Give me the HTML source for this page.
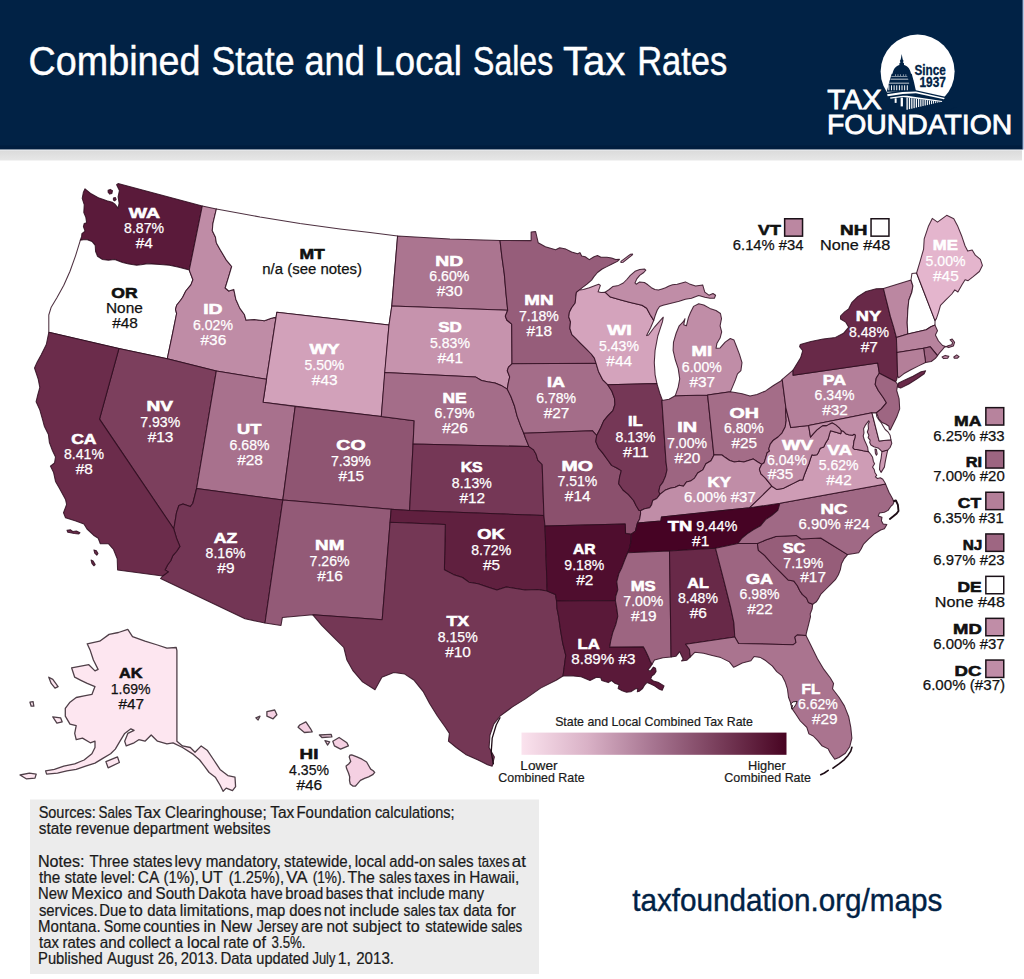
<!DOCTYPE html>
<html lang="en"><head><meta charset="utf-8">
<title>Combined State and Local Sales Tax Rates</title>
<style>
html,body{margin:0;padding:0;background:#fff}
body{width:1024px;height:979px;overflow:hidden}
svg{display:block}
text{font-family:"Liberation Sans",sans-serif}
</style></head><body>
<svg width="1024" height="979" viewBox="0 0 1024 979">
<defs>
<linearGradient id="shade" x1="0" y1="0" x2="0" y2="1"><stop offset="0" stop-color="#eef0f4"/><stop offset="0.18" stop-color="#dcdcdc"/><stop offset="1" stop-color="#e7e7e7"/></linearGradient>
<linearGradient id="ramp" x1="0" y1="0" x2="1" y2="0"><stop offset="0" stop-color="#fbe3ee"/><stop offset="0.25" stop-color="#d9b1c6"/><stop offset="0.5" stop-color="#a67490"/><stop offset="1" stop-color="#480422"/></linearGradient>
</defs>
<rect x="0" y="0" width="1024" height="979" fill="#fff"/>
<rect x="1022" y="0" width="2" height="149.5" fill="#b3c6e3"/>
<rect x="0" y="0" width="1022.6" height="149.5" fill="#012245"/>
<rect x="0" y="149.5" width="1022" height="11" fill="url(#shade)"/>
<rect x="0" y="145.5" width="1022" height="4" fill="#001a38" opacity="0.55"/>
<g fill="#fff" stroke="#fff" stroke-width="0.45">
<text x="28.59" y="74.50" font-size="40.00" textLength="171.84" lengthAdjust="spacingAndGlyphs">Combined</text>
<text x="211.38" y="74.50" font-size="40.00" textLength="83.20" lengthAdjust="spacingAndGlyphs">State</text>
<text x="304.46" y="74.50" font-size="40.00" textLength="60.37" lengthAdjust="spacingAndGlyphs">and</text>
<text x="374.50" y="74.50" font-size="40.00" textLength="87.45" lengthAdjust="spacingAndGlyphs">Local</text>
<text x="473.05" y="74.50" font-size="40.00" textLength="80.11" lengthAdjust="spacingAndGlyphs">Sales</text>
<text x="562.91" y="74.50" font-size="40.00" textLength="62.49" lengthAdjust="spacingAndGlyphs">Tax</text>
<text x="637.17" y="74.50" font-size="40.00" textLength="90.07" lengthAdjust="spacingAndGlyphs">Rates</text>
</g>
<g transform="translate(872 28) scale(0.08789)">
<circle cx="519" cy="496" r="421" fill="#fff"/>
<g fill="#012245">
<path d="M338 296L346 340L351 362L360 375L351 390L364 402L364 424L312 424L312 402L325 390L316 375L325 362L330 340Z"/>
<path d="M232 524C242 452 290 416 338 414C388 416 434 452 444 524Z"/>
<path d="M224 520L452 520L474 602L200 602Z"/>
<path d="M200 600L474 600L502 724L168 724Z"/>
<path d="M120 745L340 712L500 708L860 788L960 900L700 1000L120 1000Z"/>
</g>
<g fill="#fff">
<path d="M222 548L400 548L404 556L219 556Z"/>
<path d="M212 578L410 578L414 586L209 586Z"/>
<path d="M196 622L420 622L424 632L193 632Z"/>
<rect x="186" y="652" width="11" height="56"/>
<rect x="216" y="652" width="11" height="56"/>
<rect x="246" y="652" width="11" height="56"/>
<rect x="276" y="652" width="11" height="56"/>
<rect x="306" y="652" width="11" height="56"/>
<rect x="336" y="652" width="11" height="56"/>
<rect x="366" y="652" width="11" height="56"/>
<rect x="396" y="652" width="11" height="56"/>
<rect x="262" y="528" width="7" height="16"/>
<rect x="292" y="528" width="7" height="16"/>
<rect x="322" y="528" width="7" height="16"/>
<rect x="352" y="528" width="7" height="16"/>
<rect x="382" y="528" width="7" height="16"/>
<path d="M172 754L345 728L500 722L828 796L818 812L500 742L350 750L178 776Z"/>
<path d="M205 792L350 770L400 772L800 830L794 842L400 790L350 786L210 806Z"/>
<rect x="258" y="800" width="22" height="52"/>
<rect x="326" y="792" width="26" height="100"/>
<rect x="392" y="792" width="15" height="138"/>
<rect x="419" y="795" width="15" height="128"/>
<rect x="446" y="799" width="14" height="119"/>
<rect x="472" y="802" width="14" height="110"/>
<rect x="498" y="805" width="14" height="100"/>
<rect x="524" y="808" width="13" height="91"/>
<rect x="549" y="812" width="13" height="82"/>
<rect x="574" y="815" width="13" height="73"/>
<rect x="599" y="818" width="13" height="64"/>
<rect x="624" y="821" width="12" height="56"/>
<rect x="648" y="824" width="12" height="47"/>
<rect x="672" y="827" width="12" height="39"/>
<rect x="695" y="830" width="11" height="30"/>
<rect x="719" y="833" width="11" height="22"/>
<rect x="742" y="836" width="11" height="14"/>
<rect x="765" y="839" width="11" height="6"/>
<rect x="787" y="841" width="10" height="-2"/>
</g>
</g>
<g fill="#012245" stroke="#012245" stroke-width="0.3">
<text x="914.56" y="74.70" font-size="14.00" textLength="31.24" lengthAdjust="spacingAndGlyphs" font-weight="700">Since</text>
<text x="919.45" y="87.40" font-size="14.00" textLength="26.47" lengthAdjust="spacingAndGlyphs" font-weight="700">1937</text>
</g>
<g fill="#fff" stroke="#fff" stroke-width="0.8">
<text x="827.17" y="108.80" font-size="27.00" textLength="54.62" lengthAdjust="spacingAndGlyphs">TAX</text>
<text x="826.90" y="134.30" font-size="27.00" textLength="185.39" lengthAdjust="spacingAndGlyphs">FOUNDATION</text>
</g>
<g stroke="#2e0c1f" stroke-opacity="0.85" stroke-width="1.05" stroke-linejoin="round">
<path d="M80.3 240.3L81.6 236.7L81.9 233.6L85.0 231.2L83.4 226.6L84.2 223.4L86.6 222.7L85.8 217.2L83.8 212.5L84.2 204.7L82.2 198.4L83.4 192.2L85.0 188.8L91.2 193.8L99.1 198.1L106.9 200.8L112.3 202.3L114.7 203.9L118.1 208.1L119.1 203.1L118.1 196.9L119.4 190.6L116.6 184.7L118.1 183.6L202.3 206.0L189.3 270.0L178.8 267.2L169.4 265.3L160.0 264.4L147.5 263.8L141.2 264.8L136.6 265.3L128.8 264.1L122.5 262.5L114.7 259.4L108.4 260.2L102.2 259.4L97.5 256.2L95.6 251.6L95.2 245.3L92.0 241.4L87.3 239.8L83.4 239.8ZM108.1 190.3L110.3 189.4L112.5 190.6L111.9 193.4L109.7 194.1L108.1 192.2ZM113.4 198.1L115.3 197.5L116.2 199.4L114.7 200.9L113.4 200.0Z" fill="#5a1a3a"/>
<path d="M80.3 240.3L75.6 255.6L70.0 271.2L63.8 285.3L56.9 297.8L51.2 307.2L48.8 315.0L48.8 332.3L118.9 348.6L167.3 358.7L172.5 333.9L176.6 313.5L175.5 309.4L176.6 305.3L180.6 300.2L182.7 297.2L185.8 291.0L190.9 284.9L192.9 279.8L189.8 271.6L189.3 270.0L178.8 267.2L169.4 265.3L160.0 264.4L147.5 263.8L141.2 264.8L136.6 265.3L128.8 264.1L122.5 262.5L114.7 259.4L108.4 260.2L102.2 259.4L97.5 256.2L95.6 251.6L95.2 245.3L92.0 241.4L87.3 239.8L83.4 239.8Z" fill="#ffffff"/>
<path d="M202.3 206.0L216.4 208.9L212.9 223.6L212.3 230.8L215.4 236.9L216.4 243.0L220.5 250.2L226.6 260.4L231.7 266.5L228.7 276.7L225.2 288.0L228.7 291.0L233.8 289.4L235.8 299.2L239.9 308.4L244.4 314.5L246.0 320.1L254.2 319.6L264.4 320.7L270.6 318.6L274.2 317.6L276.0 317.6L266.5 379.3L216.3 371.1L167.3 358.7L172.5 333.9L176.6 313.5L175.5 309.4L176.6 305.3L180.6 300.2L182.7 297.2L185.8 291.0L190.9 284.9L192.9 279.8L189.8 271.6L189.3 270.0Z" fill="#bf8ca6"/>
<path d="M216.4 208.9L260.0 217.0L300.0 223.5L340.0 229.0L370.0 232.6L397.6 236.0L391.8 306.0L389.0 325.0L276.8 312.3L276.0 317.6L274.2 317.6L270.6 318.6L264.4 320.7L254.2 319.6L246.0 320.1L244.4 314.5L239.9 308.4L235.8 299.2L233.8 289.4L228.7 291.0L225.2 288.0L228.7 276.7L231.7 266.5L226.6 260.4L220.5 250.2L216.4 243.0L215.4 236.9L212.3 230.8L212.9 223.6Z" fill="#ffffff"/>
<path d="M276.8 312.3L389.0 325.0L381.3 416.5L263.0 402.3L266.5 379.3L276.0 317.6Z" fill="#d2a1ba"/>
<path d="M118.9 348.6L167.3 358.7L216.3 371.1L196.6 488.5L192.8 503.5L190.2 506.6L183.0 504.1L178.9 505.5L176.5 512.7L175.2 520.9L173.8 529.0L99.5 419.1Z" fill="#7c3f5d"/>
<path d="M216.3 371.1L266.5 379.3L263.0 402.3L295.2 406.5L282.8 500.1L196.6 488.5Z" fill="#a8718d"/>
<path d="M295.2 406.5L381.3 416.5L414.2 420.8L413.1 444.0L409.6 510.5L391.2 509.3L282.8 500.1Z" fill="#8f5572"/>
<path d="M196.6 488.5L282.8 500.1L265.0 623.0L245.0 618.8L160.5 578.5L162.6 576.0L168.3 571.9L165.0 569.9L167.7 564.8L170.7 560.7L172.8 555.6L176.5 551.5L179.9 546.4L176.5 538.2L173.8 529.0L175.2 520.9L176.5 512.7L178.9 505.5L183.0 504.1L190.2 506.6L192.8 503.5Z" fill="#733655"/>
<path d="M282.8 500.1L391.2 509.3L390.1 522.3L382.2 619.7L312.8 614.8L282.4 617.4L281.0 625.4L265.0 623.0Z" fill="#935a77"/>
<path d="M48.8 332.3L46.3 344.5L41.2 354.7L37.2 361.9L34.5 368.0L38.2 379.2L39.8 387.4L37.8 394.6L36.1 401.7L39.8 409.9L42.7 420.1L44.3 426.2L48.4 434.4L49.4 442.6L52.5 450.7L55.5 456.9L54.5 463.0L50.4 466.1L53.5 472.2L55.5 481.4L59.4 488.2L65.5 499.4L66.6 504.5L63.5 512.7L65.5 517.8L75.8 520.9L83.9 523.9L87.0 529.0L93.5 535.2L98.2 538.2L100.3 543.7L108.4 543.7L113.5 549.5L117.2 558.7L117.6 569.9L162.6 576.0L168.3 571.9L165.0 569.9L167.7 564.8L170.7 560.7L172.8 555.6L176.5 551.5L179.9 546.4L176.5 538.2L173.8 529.0L99.5 419.1L118.9 348.6ZM67.0 530.3L70.6 529.8L72.7 531.5L76.4 531.1L80.0 532.7L78.8 533.9L74.3 533.5L70.6 532.7L67.8 532.3ZM93.9 549.9L96.4 550.7L98.0 553.5L96.8 555.2L94.7 553.1ZM91.1 560.1L93.1 560.9L95.2 564.6L93.9 565.8L91.9 563.4Z" fill="#6b2c4b"/>
<path d="M397.6 236.0L450.0 239.0L500.0 240.4L501.9 256.8L504.3 273.9L506.0 293.5L507.7 310.2L391.8 306.0Z" fill="#ab7590"/>
<path d="M391.8 306.0L507.7 310.2L505.3 316.1L506.8 320.0L511.7 324.2L512.0 363.8L508.5 367.1L507.3 370.7L509.7 376.9L508.5 381.8L507.2 389.1L501.1 385.4L495.0 383.0L487.6 381.8L481.5 380.5L475.4 376.9L384.7 372.5L389.0 325.0Z" fill="#c693ad"/>
<path d="M384.7 372.5L475.4 376.9L481.5 380.5L487.6 381.8L495.0 383.0L501.1 385.4L507.2 389.1L510.9 396.5L514.6 406.3L517.1 416.1L520.7 425.9L523.8 433.3L525.5 438.1L529.0 446.6L413.1 444.0L414.2 420.8L381.3 416.5Z" fill="#a46d89"/>
<path d="M413.1 444.0L529.0 446.6L533.4 449.6L536.0 453.9L537.8 460.1L542.2 464.5L543.9 515.5L409.6 510.5Z" fill="#753756"/>
<path d="M391.2 509.3L409.6 510.5L543.9 515.5L545.0 526.0L547.2 591.0L537.5 589.4L525.0 590.0L515.6 588.4L506.2 586.9L496.9 590.0L487.5 586.9L478.1 583.8L468.8 582.2L462.5 577.5L453.1 574.4L444.4 569.7L445.3 524.4L390.1 522.3Z" fill="#60203f"/>
<path d="M390.1 522.3L445.3 524.4L444.4 569.7L453.1 574.4L462.5 577.5L468.8 582.2L478.1 583.8L487.5 586.9L496.9 590.0L506.2 586.9L515.6 588.4L525.0 590.0L537.5 589.4L547.2 591.0L555.5 594.4L556.6 601.1L557.0 608.3L558.6 616.4L560.6 630.7L562.7 643.0L565.8 655.3L564.7 663.4L563.0 676.0L556.2 680.3L540.6 688.1L525.0 699.1L512.5 706.9L500.0 716.2L493.8 724.1L490.0 735.0L489.1 747.5L494.4 756.9L492.2 766.2L487.5 764.7L478.1 760.0L465.6 754.4L456.2 747.5L448.4 741.2L449.4 733.4L445.3 727.2L437.5 716.2L429.7 703.8L423.4 691.9L414.1 680.3L404.7 674.1L393.8 672.5L381.9 677.2L375.0 689.7L362.5 681.9L353.1 670.9L346.9 660.0L343.8 647.5L334.4 638.1L321.9 625.6L312.8 614.8L382.2 619.7Z" fill="#743755"/>
<path d="M500.0 240.4L531.1 240.6L531.1 232.1L535.6 231.5L538.2 242.7L545.4 246.8L555.6 249.8L559.7 247.8L565.9 249.1L571.7 252.0L577.6 253.8L579.9 252.6L581.7 256.1L585.2 256.7L589.3 259.6L594.0 256.7L597.5 255.5L601.0 257.3L606.9 257.3L611.6 257.9L615.7 259.6L619.5 259.3L617.4 261.4L611.6 264.3L606.9 266.6L602.2 269.0L597.5 272.5L594.0 276.6L591.6 280.1L587.0 284.2L582.3 287.7L579.6 289.9L576.4 292.4L575.8 297.1L575.2 303.0L571.7 307.7L569.4 312.3L568.8 317.0L570.5 321.7L569.9 328.5L571.9 334.6L576.0 338.7L580.1 342.8L586.2 348.9L591.3 354.0L594.4 358.1L596.0 363.2L512.0 363.8L511.7 324.2L506.8 320.0L505.3 316.1L507.7 310.2L506.0 293.5L504.3 273.9L501.9 256.8Z" fill="#965d7a"/>
<path d="M512.0 363.8L596.0 363.2L598.5 371.4L602.6 379.6L607.7 384.7L611.9 391.2L614.5 398.4L614.9 404.5L612.9 410.6L607.8 415.8L603.7 420.9L600.6 428.0L596.7 435.5L592.3 430.7L523.8 433.3L520.7 425.9L517.1 416.1L514.6 406.3L510.9 396.5L507.2 389.1L508.5 381.8L509.7 376.9L507.3 370.7L508.5 367.1Z" fill="#a46d89"/>
<path d="M523.8 433.3L592.3 430.7L596.7 435.5L595.8 441.6L598.4 447.8L602.8 453.1L607.2 459.2L611.6 465.4L616.9 468.0L621.3 470.6L619.5 477.7L618.7 483.8L623.0 490.0L628.3 494.4L633.6 500.5L636.2 505.8L638.9 510.2L640.5 510.7L640.6 513.7L639.7 519.0L637.4 523.0L635.4 531.2L631.3 534.2L625.6 533.6L625.2 524.0L545.0 526.0L543.9 515.5L542.2 464.5L537.8 460.1L536.0 453.9L533.4 449.6L529.0 446.6L525.5 438.1Z" fill="#8b506d"/>
<path d="M545.0 526.0L625.2 524.0L625.6 533.6L631.3 534.2L631.0 541.4L629.2 549.6L627.7 552.7L625.0 559.2L621.9 567.4L618.9 573.5L616.8 581.7L617.8 589.9L615.8 596.0L615.4 600.5L556.6 601.1L555.5 594.4L547.2 591.0Z" fill="#4f0d2e"/>
<path d="M556.6 601.1L615.4 600.5L616.8 608.3L617.8 616.4L615.8 624.6L612.7 632.8L610.7 641.0L609.7 647.1L643.4 646.7L645.9 651.5L648.5 656.9L650.2 661.2L652.1 664.2L650.2 667.1L648.0 669.7L650.2 671.4L653.4 667.1L655.5 668.1L656.1 671.4L654.5 674.0L651.8 676.2L650.7 678.9L653.4 681.0L658.8 682.6L664.1 685.9L662.2 690.2L658.8 688.9L654.5 685.9L650.2 683.7L646.9 682.6L644.8 684.8L642.6 688.5L639.4 691.2L637.3 691.8L637.8 688.5L635.1 689.1L630.8 691.8L626.5 692.3L622.2 690.7L618.1 688.5L619.0 684.8L614.7 683.2L611.5 680.5L608.3 682.6L605.0 681.6L601.8 680.5L600.7 677.8L596.4 677.3L590.0 680.5L581.1 676.7L570.9 675.7L563.0 676.0L564.7 663.4L565.8 655.3L562.7 643.0L560.6 630.7L558.6 616.4L557.0 608.3Z" fill="#5a1939"/>
<path d="M579.6 289.9L583.4 289.5L589.3 287.7L595.2 285.4L598.7 284.2L600.4 285.4L598.7 290.1L598.1 291.8L601.0 292.4L605.1 292.2L610.4 297.1L620.9 300.0L630.3 302.4L642.0 305.3L646.7 308.2L650.2 314.7L652.0 317.6L653.7 320.5L650.6 327.8L646.6 335.6L648.6 335.0L654.7 326.8L661.9 318.7L663.3 317.2L662.5 321.7L659.8 329.9L657.8 336.0L655.1 350.3L654.3 362.6L655.1 374.8L656.9 383.6L607.7 384.7L602.6 379.6L598.5 371.4L596.0 363.2L594.4 358.1L591.3 354.0L586.2 348.9L580.1 342.8L576.0 338.7L571.9 334.6L569.9 328.5L570.5 321.7L568.8 317.0L569.4 312.3L571.7 307.7L575.2 303.0L575.8 297.1L576.4 292.4Z" fill="#d4a3bc"/>
<path d="M607.7 384.7L656.9 383.6L659.8 393.2L662.5 400.4L661.9 400.6L666.0 461.7L667.0 469.9L665.6 476.0L663.0 482.1L659.9 486.2L658.9 491.3L659.9 494.4L656.8 498.5L652.7 500.5L651.7 504.6L649.7 507.7L644.6 508.7L640.5 510.7L638.9 510.2L636.2 505.8L633.6 500.5L628.3 494.4L623.0 490.0L618.7 483.8L619.5 477.7L621.3 470.6L616.9 468.0L611.6 465.4L607.2 459.2L602.8 453.1L598.4 447.8L595.8 441.6L596.7 435.5L600.6 428.0L603.7 420.9L607.8 415.8L612.9 410.6L614.9 404.5L614.5 398.4L611.9 391.2Z" fill="#753756"/>
<path d="M661.9 400.6L669.0 399.3L675.2 395.8L707.6 394.9L713.9 455.2L711.0 460.7L705.9 463.8L702.8 469.9L697.7 473.0L694.6 478.1L690.5 481.1L686.4 482.1L683.4 486.2L679.3 485.2L675.2 487.3L670.1 488.3L665.0 490.3L659.9 494.4L658.9 491.3L659.9 486.2L663.0 482.1L665.6 476.0L667.0 469.9L666.0 461.7Z" fill="#9d6581"/>
<path d="M675.2 395.8L678.2 387.1L679.7 378.9L678.2 368.7L675.2 359.5L673.1 350.3L673.5 342.1L676.2 333.0L679.2 325.8L683.3 321.7L685.0 318.7L683.7 324.8L686.4 325.8L688.4 317.6L690.5 312.5L693.5 306.4L698.7 303.7L703.8 305.0L709.9 308.4L716.0 310.5L720.5 313.5L721.5 318.7L720.1 325.8L721.7 331.9L720.1 338.1L717.0 343.2L716.0 348.3L720.1 347.9L725.2 342.1L730.3 338.5L734.0 340.1L736.4 346.2L739.5 354.4L742.0 362.6L740.9 370.7L737.5 373.8L735.4 379.9L732.4 387.1L730.4 391.7L707.6 394.9ZM605.1 292.2L609.2 289.5L612.7 286.6L618.6 285.4L623.3 283.0L626.8 279.5L630.3 275.4L635.0 271.3L639.7 269.6L644.4 269.0L645.8 270.2L643.8 272.5L639.7 275.4L636.8 278.9L635.0 283.0L636.2 284.2L639.7 281.9L644.4 282.5L647.9 284.8L651.4 287.7L654.9 289.5L658.4 290.1L662.0 288.9L665.5 287.7L669.0 286.0L672.5 284.8L677.2 284.2L685.4 281.9L689.5 283.9L695.6 286.0L702.7 284.9L704.8 292.1L708.9 295.2L713.0 293.5L715.6 295.2L714.4 298.2L709.9 298.2L704.8 297.2L698.7 295.6L691.5 298.2L685.4 299.2L679.2 301.3L670.2 303.6L663.1 305.3L659.6 306.5L657.3 310.0L655.5 314.7L653.7 320.5L652.0 317.6L650.2 314.7L646.7 308.2L642.0 305.3L630.3 302.4L620.9 300.0L610.4 297.1ZM620.9 261.4L625.6 257.9L630.3 254.3L632.7 254.0L632.1 255.2L628.0 258.4L623.3 262.2L620.9 262.5Z" fill="#c08da7"/>
<path d="M707.6 394.9L730.4 391.7L735.2 392.5L742.2 393.8L750.0 395.9L757.0 394.4L765.6 390.9L773.4 385.5L781.2 380.8L782.2 379.4L785.9 407.8L785.6 411.2L786.2 420.6L785.2 426.9L782.0 433.1L778.1 437.0L773.4 440.2L770.3 444.1L768.8 448.8L769.5 451.1L767.2 452.7L765.6 458.1L764.1 462.8L761.7 464.4L757.8 462.0L753.1 458.9L748.4 460.5L743.8 462.0L739.1 461.2L734.4 462.0L729.7 460.5L725.0 457.3L721.9 455.0L714.8 454.7L713.9 455.2Z" fill="#a46d88"/>
<path d="M659.9 494.4L665.0 490.3L670.1 488.3L675.2 487.3L679.3 485.2L683.4 486.2L686.4 482.1L690.5 481.1L694.6 478.1L697.7 473.0L702.8 469.9L705.9 463.8L711.0 460.7L713.9 455.2L714.8 454.7L721.9 455.0L725.0 457.3L729.7 460.5L734.4 462.0L739.1 461.2L743.8 462.0L748.4 460.5L753.1 458.9L757.8 462.0L761.7 464.4L759.4 469.1L760.9 473.8L765.6 478.4L768.8 482.3L771.9 486.2L749.8 507.7L661.5 516.9L660.9 521.0L637.4 523.0L639.7 519.0L640.6 513.7L640.5 510.7L644.6 508.7L649.7 507.7L651.7 504.6L652.7 500.5L656.8 498.5Z" fill="#c08da7"/>
<path d="M637.4 523.0L660.9 521.0L661.5 516.9L749.8 507.7L779.9 503.3L777.8 510.4L771.7 515.5L765.6 519.6L760.5 525.8L753.3 529.8L747.2 533.9L742.1 538.0L738.0 543.5L715.5 548.2L669.5 551.1L627.7 552.7L629.2 549.6L631.0 541.4L631.3 534.2L635.4 531.2Z" fill="#460324"/>
<path d="M627.7 552.7L669.5 551.1L671.1 656.9L663.0 657.7L654.5 659.9L652.1 664.2L650.2 661.2L648.5 656.9L645.9 651.5L643.4 646.7L609.7 647.1L610.7 641.0L612.7 632.8L615.8 624.6L617.8 616.4L616.8 608.3L615.4 600.5L615.8 596.0L617.8 589.9L616.8 581.7L618.9 573.5L621.9 567.4L625.0 559.2Z" fill="#9d6581"/>
<path d="M669.5 551.1L715.5 548.2L723.7 579.9L730.9 608.5L733.9 622.8L734.8 637.0L685.7 644.2L689.4 649.3L690.4 656.9L686.7 660.3L681.5 660.9L683.2 659.2L679.7 651.7L675.9 656.3L671.1 656.9Z" fill="#682948"/>
<path d="M715.5 548.2L738.0 543.5L757.4 543.5L758.4 550.3L764.6 555.4L771.7 563.5L779.9 571.7L788.1 579.9L793.7 580.9L797.4 585.8L799.8 590.7L802.3 594.4L806.6 598.1L808.4 602.4L812.7 604.2L812.1 609.1L810.2 614.0L810.5 616.7L808.5 624.8L806.4 633.0L806.0 635.5L797.1 635.0L794.9 637.2L796.0 642.6L793.0 644.8L738.5 643.4L734.8 637.0L733.9 622.8L730.9 608.5L723.7 579.9Z" fill="#9d6581"/>
<path d="M757.4 543.5L765.6 540.1L775.8 536.6L796.2 535.4L801.3 539.0L820.7 538.0L847.6 554.6L844.0 558.9L841.5 563.8L840.3 569.9L838.4 574.8L835.4 579.7L830.5 584.6L825.6 589.5L820.7 594.4L818.8 598.1L816.4 601.8L812.7 604.2L808.4 602.4L806.6 598.1L802.3 594.4L799.8 590.7L797.4 585.8L793.7 580.9L788.1 579.9L779.9 571.7L771.7 563.5L764.6 555.4L758.4 550.3Z" fill="#965d79"/>
<path d="M779.9 503.3L885.6 484.1L889.0 492.2L892.6 498.8L893.9 502.0L893.0 504.3L890.6 506.7L888.1 510.4L884.4 512.3L879.5 512.9L878.3 515.9L882.0 517.2L881.4 520.8L883.2 523.9L886.9 524.5L884.4 528.8L880.7 530.0L874.6 533.7L868.5 539.2L863.6 544.1L861.1 549.0L858.7 552.7L851.3 554.0L847.6 554.6L820.7 538.0L801.3 539.0L796.2 535.4L775.8 536.6L765.6 540.1L757.4 543.5L738.0 543.5L742.1 538.0L747.2 533.9L753.3 529.8L760.5 525.8L765.6 519.6L771.7 515.5L777.8 510.4Z" fill="#a06985"/>
<path d="M685.7 644.2L734.8 637.0L738.5 643.4L793.0 644.8L796.0 642.6L794.9 637.2L797.1 635.0L806.0 635.5L811.1 645.8L817.5 658.7L823.9 669.4L830.4 678.0L833.6 683.4L832.5 688.8L839.0 697.3L844.4 705.9L848.7 716.7L850.8 727.4L851.9 738.2L849.7 746.8L845.4 753.2L839.0 757.5L834.7 759.2L830.4 753.2L828.2 748.9L821.8 745.7L817.5 740.3L813.2 736.0L808.9 733.9L806.8 727.4L800.3 721.0L796.0 714.5L791.7 708.1L790.6 702.7L788.5 697.3L787.4 688.8L785.3 682.3L782.1 675.9L776.7 671.6L772.4 666.2L765.9 660.8L760.6 657.6L754.1 656.5L750.9 660.8L742.3 663.0L735.9 666.2L733.7 667.3L729.4 661.9L720.8 657.6L712.2 655.4L703.6 653.3L695.0 652.2L690.4 656.9L689.4 649.3Z" fill="#aa748f"/>
<path d="M749.8 507.7L771.9 486.2L776.6 489.4L782.8 488.6L787.5 486.2L793.8 483.1L800.0 480.0L802.7 480.0L804.6 474.2L806.6 469.3L809.0 463.5L810.5 458.6L812.0 454.7L813.4 455.2L816.9 454.7L818.3 452.7L820.3 448.3L823.7 446.9L825.6 443.0L828.1 439.1L829.6 433.7L830.5 430.8L835.9 432.2L840.8 433.7L841.3 430.5L843.2 431.2L845.7 433.7L848.6 434.7L852.5 435.2L854.0 434.2L855.4 435.0L855.2 437.6L854.0 441.0L853.5 444.9L853.0 447.9L854.5 449.3L858.4 449.8L863.2 450.8L868.5 451.7L870.5 454.0L872.6 457.3L873.4 461.4L874.6 463.8L872.6 467.1L874.2 469.5L875.0 472.8L876.7 475.3L875.4 476.9L877.5 478.5L880.3 477.7L882.8 479.3L884.8 482.6L885.6 484.1L779.9 503.3ZM882.0 451.6L887.7 450.1L886.5 455.7L885.2 462.2L884.4 467.1L881.1 472.4L879.5 469.5L879.9 463.8L881.1 458.1L881.6 454.0Z" fill="#ce9cb5"/>
<path d="M785.9 407.8L790.8 427.6L808.6 425.4L810.5 437.1L813.4 433.7L816.9 429.8L821.2 426.6L822.7 425.6L826.6 425.6L829.6 423.9L832.2 422.8L835.9 424.9L839.3 427.8L841.3 430.5L840.8 433.7L835.9 432.2L830.5 430.8L829.6 433.7L828.1 439.1L825.6 443.0L823.7 446.9L820.3 448.3L818.3 452.7L816.9 454.7L813.4 455.2L812.0 454.7L810.5 458.6L809.0 463.5L806.6 469.3L804.6 474.2L802.7 480.0L800.0 480.0L793.8 483.1L787.5 486.2L782.8 488.6L776.6 489.4L771.9 486.2L768.8 482.3L765.6 478.4L760.9 473.8L759.4 469.1L761.7 464.4L764.1 462.8L765.6 458.1L767.2 452.7L769.5 451.1L768.8 448.8L770.3 444.1L773.4 440.2L778.1 437.0L782.0 433.1L785.2 426.9L786.2 420.6L785.6 411.2Z" fill="#bf8ba5"/>
<path d="M782.2 379.4L793.1 370.1L793.1 375.2L877.7 363.0L879.3 373.2L876.2 378.3L875.2 384.4L878.3 390.5L883.4 397.7L886.4 402.8L881.3 408.9L876.2 413.0L872.0 412.8L808.6 425.4L790.8 427.6L785.9 407.8Z" fill="#b47f9a"/>
<path d="M793.1 370.1L800.6 357.8L802.7 350.7L799.6 346.6L800.2 344.6L810.9 341.5L823.1 339.1L835.4 337.4L843.5 333.3L848.7 327.2L845.6 322.1L840.5 319.0L840.5 316.0L844.6 311.9L848.7 308.8L851.7 302.7L857.8 296.6L866.0 291.5L876.2 288.8L883.5 288.5L885.3 296.1L887.4 304.3L890.4 316.5L893.5 326.7L896.4 337.5L897.0 352.4L897.6 375.8L896.6 379.9L895.6 381.7L879.3 373.2L877.7 363.0L793.1 375.2ZM898.6 383.0L904.8 379.9L912.9 376.2L921.1 371.7L925.6 370.7L924.2 373.8L917.0 378.9L908.8 384.0L900.7 388.1L897.6 387.0Z" fill="#682948"/>
<path d="M879.3 373.2L895.6 381.7L897.7 384.4L896.7 390.5L899.1 398.7L899.7 408.9L896.7 417.1L893.4 423.8L890.3 430.0L889.3 429.5L888.9 426.2L886.0 424.2L882.0 422.6L878.7 418.9L877.1 414.0L876.2 413.0L881.3 408.9L886.4 402.8L883.4 397.7L878.3 390.5L875.2 384.4L876.2 378.3Z" fill="#9e6682"/>
<path d="M883.5 288.5L911.0 280.0L912.9 285.9L911.9 292.0L908.8 300.2L907.8 310.4L907.2 322.6L907.8 333.9L896.4 337.5L893.5 326.7L890.4 316.5L887.4 304.3L885.3 296.1Z" fill="#bb87a1"/>
<path d="M911.0 280.0L911.9 273.6L916.6 273.0L935.0 320.6L935.0 325.1L930.9 326.7L926.2 329.8L907.8 333.9L907.2 322.6L907.8 310.4L908.8 300.2L911.9 292.0L912.9 285.9Z" fill="#ffffff"/>
<path d="M896.4 337.5L907.8 333.9L926.2 329.8L930.9 326.7L935.0 325.1L937.5 330.8L935.4 334.9L938.5 341.0L942.6 345.5L948.7 347.6L953.4 346.0L954.6 342.3L952.2 339.0L950.1 339.8L952.6 342.5L951.8 344.7L948.7 345.5L944.0 347.6L942.0 350.2L939.5 352.9L937.5 355.7L930.3 346.8L923.6 348.2L897.0 352.4ZM942.0 357.0L945.2 355.4L948.9 356.2L947.7 358.2L943.6 358.6ZM953.8 357.0L956.7 354.9L959.1 356.6L957.5 358.2L954.2 358.2Z" fill="#b7839d"/>
<path d="M923.6 348.2L930.3 346.8L937.5 355.7L935.4 358.4L931.3 361.5L925.6 362.5Z" fill="#9d6581"/>
<path d="M897.0 352.4L923.6 348.2L925.6 362.5L919.1 365.6L910.9 369.7L903.7 373.8L898.6 377.8L897.6 375.8Z" fill="#b47f99"/>
<path d="M916.6 273.0L920.1 261.3L923.6 249.1L924.2 238.8L928.3 226.6L932.3 218.4L937.5 222.1L946.7 215.3L953.8 218.8L957.9 226.6L962.0 236.8L965.1 246.0L967.7 251.1L972.2 250.1L975.3 255.2L980.4 259.3L982.4 265.4L979.4 271.5L973.2 276.7L968.1 280.7L965.1 279.7L962.0 284.8L957.9 292.0L954.8 289.9L951.8 294.0L945.6 300.2L940.5 305.3L938.5 312.4L936.4 318.6L935.0 320.6Z" fill="#e4b5cd"/>
<path d="M808.6 425.4L872.0 412.8L879.1 440.9L890.9 439.7L891.8 443.4L890.1 447.5L887.7 450.1L882.0 451.6L880.3 449.9L878.7 448.3L876.2 447.5L873.8 446.7L870.9 445.0L869.7 442.6L870.1 440.1L868.1 437.7L868.9 435.2L867.3 432.0L868.5 428.7L868.1 424.6L869.3 421.7L868.7 420.9L865.2 425.4L863.6 428.7L864.0 432.8L863.2 436.0L864.4 440.1L866.0 443.4L867.7 447.5L868.1 450.8L868.5 451.7L863.2 450.8L858.4 449.8L854.5 449.3L853.0 447.9L853.5 444.9L854.0 441.0L855.2 437.6L855.4 435.0L854.0 434.2L852.5 435.2L848.6 434.7L845.7 433.7L843.2 431.2L841.3 430.5L839.3 427.8L835.9 424.9L832.2 422.8L829.6 423.9L826.6 425.6L822.7 425.6L821.2 426.6L816.9 429.8L813.4 433.7L810.5 437.1ZM875.0 449.1L876.4 449.5L877.2 454.0L876.4 455.2L875.4 453.2Z" fill="#c08da7"/>
<path d="M872.0 412.8L876.2 413.0L876.7 416.4L878.7 419.7L881.1 422.6L883.2 426.2L885.2 429.5L888.1 432.0L890.1 435.2L890.9 439.7L879.1 440.9Z" fill="#ffffff"/>
<path d="M87.2 643.8L99.7 641.2L109.1 634.4L118.4 632.5L127.8 629.4L132.5 636.6L145.0 641.2L157.5 645.0L166.9 648.1L176.2 647.5L176.9 650.6L176.9 741.2L182.5 745.9L190.3 747.5L195.0 752.2L201.2 745.9L207.5 750.6L213.8 760.0L220.0 769.4L227.8 775.6L235.0 777.2L235.6 786.6L232.5 790.6L226.2 788.1L223.1 791.2L220.0 785.0L215.3 777.2L209.1 772.5L204.4 766.2L199.7 760.0L193.4 754.4L182.5 747.5L173.1 742.8L166.9 743.8L157.5 741.2L151.2 735.0L145.0 741.2L138.8 739.7L134.1 742.8L126.2 745.9L124.7 741.2L127.8 733.4L134.1 730.3L130.9 728.8L124.7 733.4L120.0 741.2L115.3 749.1L110.6 753.8L102.8 758.4L95.0 763.1L85.6 766.2L76.2 769.4L66.9 770.9L57.5 773.1L46.6 774.1L45.6 770.9L54.4 769.4L63.8 766.2L74.7 763.8L84.1 760.0L91.9 753.8L95.0 747.5L95.0 741.2L90.3 742.8L82.5 738.1L76.2 739.7L74.7 733.4L76.2 725.6L70.0 724.1L65.3 716.2L65.3 708.4L70.0 702.2L76.2 697.5L84.1 695.9L91.9 694.4L95.0 686.6L87.2 683.4L80.9 680.3L74.7 677.2L71.6 667.8L80.9 666.2L88.8 664.7L95.0 670.9L98.1 669.4L93.4 660.0L90.3 650.6ZM48.8 677.2L52.8 679.4L58.1 686.6L55.0 688.1L51.2 683.4ZM52.8 716.9L60.6 717.8L62.2 721.9L56.9 723.1ZM105.9 761.6L117.5 756.9L119.4 762.5L108.1 767.8ZM30.0 702.2L33.1 701.6L33.8 706.2L31.2 706.2ZM20.0 775.0L29.4 773.1L36.2 774.1L35.0 778.1L26.2 778.8Z" fill="#fde6f0" stroke="#4f3f48" stroke-opacity="1" stroke-width="1.3"/>
<path d="M350.0 755.1L351.7 754.8L356.9 756.9L362.0 759.2L366.6 762.0L368.6 765.5L370.7 769.1L373.2 770.7L374.7 772.4L372.7 774.7L368.6 776.8L364.5 778.3L360.4 780.4L357.4 783.9L355.3 786.2L352.8 786.0L350.2 783.9L349.5 780.4L349.7 776.8L348.4 772.7L346.6 768.6L346.1 766.1L348.7 764.0L350.7 761.5L350.0 759.4L349.2 756.9ZM332.8 741.2L339.1 737.5L346.9 742.8L348.4 745.9L340.6 749.1L334.4 745.9ZM319.4 735.0L331.2 734.4L331.9 736.9L321.9 737.5ZM325.0 740.6L329.7 741.9L327.5 745.0ZM299.7 725.0L305.9 721.9L310.6 728.8L312.2 731.9L304.4 732.5L298.1 727.2ZM266.9 711.6L274.7 710.0L276.9 714.7L273.1 718.8L266.9 716.2ZM255.9 717.8L260.0 716.2L258.1 720.0Z" fill="#f5d0e2" stroke="#4f3f48" stroke-opacity="1" stroke-width="1.3"/>
</g>
<path d="M894.2 501.0L895.9 500.5L897.9 504.9L898.5 511.0L896.7 513.5L893.0 516.6L889.9 519.0" fill="none" stroke="#1d0c15" stroke-width="1.9" stroke-linecap="round" stroke-linejoin="round"/>
<path d="M820.7 774.7L824.4 773.0L828.2 770.4" fill="none" stroke="#1d0c15" stroke-width="1.6" stroke-linecap="round" stroke-linejoin="round"/>
<path d="M833.0 768.2L839.0 763.9L844.4 759.6L848.0 755.4L850.8 751.1L851.9 747.2" fill="none" stroke="#1d0c15" stroke-width="1.6" stroke-linecap="round" stroke-linejoin="round"/>
<path d="M493.4 763.8L491.2 752.2L492.2 738.1L496.2 725.0L500.0 717.8" fill="none" stroke="#1d0c15" stroke-width="1.3" stroke-linecap="round" stroke-linejoin="round"/>
<path d="M790.6 704.2L793.0 701.9L797.1 701.4L796.0 704.2L793.9 707.7L791.7 708.9L792.6 705.5Z" fill="#fff" stroke="#1d0c15" stroke-width="0.9"/>
<g fill="#ffffff" stroke="#ffffff" stroke-width="0.25">
<text x="128.68" y="217.50" font-size="15.40" textLength="31.32" lengthAdjust="spacingAndGlyphs" font-weight="700" stroke-width="0.6">WA</text>
<text x="124.07" y="233.10" font-size="15.40" textLength="39.95" lengthAdjust="spacingAndGlyphs">8.87%</text>
<text x="135.73" y="248.10" font-size="15.40" textLength="17.13" lengthAdjust="spacingAndGlyphs">#4</text>
</g>
<g fill="#111111" stroke="#111111" stroke-width="0.25">
<text x="111.34" y="297.80" font-size="15.40" textLength="26.36" lengthAdjust="spacingAndGlyphs" font-weight="700" stroke-width="0.6">OR</text>
<text x="106.00" y="313.40" font-size="15.40" textLength="36.82" lengthAdjust="spacingAndGlyphs">None</text>
<text x="112.15" y="328.40" font-size="15.40" textLength="25.69" lengthAdjust="spacingAndGlyphs">#48</text>
</g>
<g fill="#ffffff" stroke="#ffffff" stroke-width="0.25">
<text x="203.20" y="314.40" font-size="15.40" textLength="19.33" lengthAdjust="spacingAndGlyphs" font-weight="700" stroke-width="0.6">ID</text>
<text x="193.02" y="330.00" font-size="15.40" textLength="39.95" lengthAdjust="spacingAndGlyphs">6.02%</text>
<text x="200.56" y="345.00" font-size="15.40" textLength="25.69" lengthAdjust="spacingAndGlyphs">#36</text>
</g>
<g fill="#111111" stroke="#111111" stroke-width="0.25">
<text x="299.42" y="258.75" font-size="15.40" textLength="25.38" lengthAdjust="spacingAndGlyphs" font-weight="700" stroke-width="0.6">MT</text>
</g>
<g fill="#ffffff" stroke="#ffffff" stroke-width="0.25">
<text x="146.46" y="411.25" font-size="15.40" textLength="26.53" lengthAdjust="spacingAndGlyphs" font-weight="700" stroke-width="0.6">NV</text>
<text x="140.21" y="426.85" font-size="15.40" textLength="39.95" lengthAdjust="spacingAndGlyphs">7.93%</text>
<text x="147.76" y="441.85" font-size="15.40" textLength="25.69" lengthAdjust="spacingAndGlyphs">#13</text>
</g>
<g fill="#ffffff" stroke="#ffffff" stroke-width="0.25">
<text x="71.19" y="443.75" font-size="15.40" textLength="25.36" lengthAdjust="spacingAndGlyphs" font-weight="700" stroke-width="0.6">CA</text>
<text x="63.97" y="459.35" font-size="15.40" textLength="39.95" lengthAdjust="spacingAndGlyphs">8.41%</text>
<text x="75.74" y="474.35" font-size="15.40" textLength="17.13" lengthAdjust="spacingAndGlyphs">#8</text>
</g>
<g fill="#ffffff" stroke="#ffffff" stroke-width="0.25">
<text x="237.07" y="434.40" font-size="15.40" textLength="24.36" lengthAdjust="spacingAndGlyphs" font-weight="700" stroke-width="0.6">UT</text>
<text x="229.62" y="450.00" font-size="15.40" textLength="39.95" lengthAdjust="spacingAndGlyphs">6.68%</text>
<text x="237.15" y="465.00" font-size="15.40" textLength="25.69" lengthAdjust="spacingAndGlyphs">#28</text>
</g>
<g fill="#ffffff" stroke="#ffffff" stroke-width="0.25">
<text x="309.45" y="354.00" font-size="15.40" textLength="30.18" lengthAdjust="spacingAndGlyphs" font-weight="700" stroke-width="0.6">WY</text>
<text x="304.39" y="369.60" font-size="15.40" textLength="39.95" lengthAdjust="spacingAndGlyphs">5.50%</text>
<text x="311.86" y="384.60" font-size="15.40" textLength="25.69" lengthAdjust="spacingAndGlyphs">#43</text>
</g>
<g fill="#ffffff" stroke="#ffffff" stroke-width="0.25">
<text x="435.23" y="265.60" font-size="15.40" textLength="27.85" lengthAdjust="spacingAndGlyphs" font-weight="700" stroke-width="0.6">ND</text>
<text x="429.32" y="281.20" font-size="15.40" textLength="39.95" lengthAdjust="spacingAndGlyphs">6.60%</text>
<text x="436.82" y="296.20" font-size="15.40" textLength="25.69" lengthAdjust="spacingAndGlyphs">#30</text>
</g>
<g fill="#ffffff" stroke="#ffffff" stroke-width="0.25">
<text x="438.37" y="332.20" font-size="15.40" textLength="23.47" lengthAdjust="spacingAndGlyphs" font-weight="700" stroke-width="0.6">SD</text>
<text x="429.99" y="347.80" font-size="15.40" textLength="39.95" lengthAdjust="spacingAndGlyphs">5.83%</text>
<text x="437.50" y="362.80" font-size="15.40" textLength="25.69" lengthAdjust="spacingAndGlyphs">#41</text>
</g>
<g fill="#ffffff" stroke="#ffffff" stroke-width="0.25">
<text x="442.40" y="402.50" font-size="15.40" textLength="24.12" lengthAdjust="spacingAndGlyphs" font-weight="700" stroke-width="0.6">NE</text>
<text x="434.62" y="418.10" font-size="15.40" textLength="39.95" lengthAdjust="spacingAndGlyphs">6.79%</text>
<text x="442.16" y="433.10" font-size="15.40" textLength="25.69" lengthAdjust="spacingAndGlyphs">#26</text>
</g>
<g fill="#ffffff" stroke="#ffffff" stroke-width="0.25">
<text x="524.39" y="305.00" font-size="15.40" textLength="29.23" lengthAdjust="spacingAndGlyphs" font-weight="700" stroke-width="0.6">MN</text>
<text x="518.91" y="320.60" font-size="15.40" textLength="39.95" lengthAdjust="spacingAndGlyphs">7.18%</text>
<text x="526.45" y="335.60" font-size="15.40" textLength="25.69" lengthAdjust="spacingAndGlyphs">#18</text>
</g>
<g fill="#ffffff" stroke="#ffffff" stroke-width="0.25">
<text x="546.91" y="386.90" font-size="15.40" textLength="17.95" lengthAdjust="spacingAndGlyphs" font-weight="700" stroke-width="0.6">IA</text>
<text x="536.17" y="402.50" font-size="15.40" textLength="39.95" lengthAdjust="spacingAndGlyphs">6.78%</text>
<text x="543.76" y="417.50" font-size="15.40" textLength="25.69" lengthAdjust="spacingAndGlyphs">#27</text>
</g>
<g fill="#ffffff" stroke="#ffffff" stroke-width="0.25">
<text x="336.37" y="450.00" font-size="15.40" textLength="29.27" lengthAdjust="spacingAndGlyphs" font-weight="700" stroke-width="0.6">CO</text>
<text x="330.91" y="465.60" font-size="15.40" textLength="39.95" lengthAdjust="spacingAndGlyphs">7.39%</text>
<text x="338.44" y="480.60" font-size="15.40" textLength="25.69" lengthAdjust="spacingAndGlyphs">#15</text>
</g>
<g fill="#ffffff" stroke="#ffffff" stroke-width="0.25">
<text x="460.65" y="471.90" font-size="15.40" textLength="22.06" lengthAdjust="spacingAndGlyphs" font-weight="700" stroke-width="0.6">KS</text>
<text x="451.87" y="487.50" font-size="15.40" textLength="39.95" lengthAdjust="spacingAndGlyphs">8.13%</text>
<text x="459.41" y="502.50" font-size="15.40" textLength="25.69" lengthAdjust="spacingAndGlyphs">#12</text>
</g>
<g fill="#ffffff" stroke="#ffffff" stroke-width="0.25">
<text x="561.58" y="470.60" font-size="15.40" textLength="31.35" lengthAdjust="spacingAndGlyphs" font-weight="700" stroke-width="0.6">MO</text>
<text x="557.41" y="486.20" font-size="15.40" textLength="39.95" lengthAdjust="spacingAndGlyphs">7.51%</text>
<text x="564.84" y="501.20" font-size="15.40" textLength="25.69" lengthAdjust="spacingAndGlyphs">#14</text>
</g>
<g fill="#ffffff" stroke="#ffffff" stroke-width="0.25">
<text x="315.09" y="550.00" font-size="15.40" textLength="29.22" lengthAdjust="spacingAndGlyphs" font-weight="700" stroke-width="0.6">NM</text>
<text x="309.61" y="565.60" font-size="15.40" textLength="39.95" lengthAdjust="spacingAndGlyphs">7.26%</text>
<text x="317.16" y="580.60" font-size="15.40" textLength="25.69" lengthAdjust="spacingAndGlyphs">#16</text>
</g>
<g fill="#ffffff" stroke="#ffffff" stroke-width="0.25">
<text x="477.31" y="539.40" font-size="15.40" textLength="27.30" lengthAdjust="spacingAndGlyphs" font-weight="700" stroke-width="0.6">OK</text>
<text x="471.22" y="555.00" font-size="15.40" textLength="39.95" lengthAdjust="spacingAndGlyphs">8.72%</text>
<text x="482.97" y="570.00" font-size="15.40" textLength="17.13" lengthAdjust="spacingAndGlyphs">#5</text>
</g>
<g fill="#ffffff" stroke="#ffffff" stroke-width="0.25">
<text x="573.11" y="554.00" font-size="15.40" textLength="22.51" lengthAdjust="spacingAndGlyphs" font-weight="700" stroke-width="0.6">AR</text>
<text x="564.34" y="569.60" font-size="15.40" textLength="39.95" lengthAdjust="spacingAndGlyphs">9.18%</text>
<text x="576.19" y="584.60" font-size="15.40" textLength="17.13" lengthAdjust="spacingAndGlyphs">#2</text>
</g>
<g fill="#ffffff" stroke="#ffffff" stroke-width="0.25">
<text x="446.54" y="625.90" font-size="15.40" textLength="22.47" lengthAdjust="spacingAndGlyphs" font-weight="700" stroke-width="0.6">TX</text>
<text x="437.77" y="641.50" font-size="15.40" textLength="39.95" lengthAdjust="spacingAndGlyphs">8.15%</text>
<text x="445.22" y="656.50" font-size="15.40" textLength="25.69" lengthAdjust="spacingAndGlyphs">#10</text>
</g>
<g fill="#ffffff" stroke="#ffffff" stroke-width="0.25">
<text x="213.86" y="542.50" font-size="15.40" textLength="23.54" lengthAdjust="spacingAndGlyphs" font-weight="700" stroke-width="0.6">AZ</text>
<text x="205.57" y="558.10" font-size="15.40" textLength="39.95" lengthAdjust="spacingAndGlyphs">8.16%</text>
<text x="217.37" y="573.10" font-size="15.40" textLength="17.13" lengthAdjust="spacingAndGlyphs">#9</text>
</g>
<g fill="#111111" stroke="#111111" stroke-width="0.25">
<text x="119.04" y="678.10" font-size="15.40" textLength="23.47" lengthAdjust="spacingAndGlyphs" font-weight="700" stroke-width="0.6">AK</text>
<text x="110.64" y="693.70" font-size="15.40" textLength="39.95" lengthAdjust="spacingAndGlyphs">1.69%</text>
<text x="118.41" y="708.70" font-size="15.40" textLength="25.69" lengthAdjust="spacingAndGlyphs">#47</text>
</g>
<g fill="#111111" stroke="#111111" stroke-width="0.25">
<text x="299.61" y="759.40" font-size="15.40" textLength="18.79" lengthAdjust="spacingAndGlyphs" font-weight="700" stroke-width="0.6">HI</text>
<text x="289.11" y="775.00" font-size="15.40" textLength="39.95" lengthAdjust="spacingAndGlyphs">4.35%</text>
<text x="296.46" y="790.00" font-size="15.40" textLength="25.69" lengthAdjust="spacingAndGlyphs">#46</text>
</g>
<g fill="#ffffff" stroke="#ffffff" stroke-width="0.25">
<text x="607.37" y="335.30" font-size="15.40" textLength="24.59" lengthAdjust="spacingAndGlyphs" font-weight="700" stroke-width="0.6">WI</text>
<text x="598.99" y="350.90" font-size="15.40" textLength="39.95" lengthAdjust="spacingAndGlyphs">5.43%</text>
<text x="606.34" y="365.90" font-size="15.40" textLength="25.69" lengthAdjust="spacingAndGlyphs">#44</text>
</g>
<g fill="#ffffff" stroke="#ffffff" stroke-width="0.25">
<text x="691.57" y="356.25" font-size="15.40" textLength="20.66" lengthAdjust="spacingAndGlyphs" font-weight="700" stroke-width="0.6">MI</text>
<text x="681.82" y="371.85" font-size="15.40" textLength="39.95" lengthAdjust="spacingAndGlyphs">6.00%</text>
<text x="689.41" y="386.85" font-size="15.40" textLength="25.69" lengthAdjust="spacingAndGlyphs">#37</text>
</g>
<g fill="#ffffff" stroke="#ffffff" stroke-width="0.25">
<text x="627.93" y="426.00" font-size="15.40" textLength="14.73" lengthAdjust="spacingAndGlyphs" font-weight="700" stroke-width="0.6">IL</text>
<text x="615.57" y="441.60" font-size="15.40" textLength="39.95" lengthAdjust="spacingAndGlyphs">8.13%</text>
<text x="623.10" y="456.60" font-size="15.40" textLength="25.69" lengthAdjust="spacingAndGlyphs">#11</text>
</g>
<g fill="#ffffff" stroke="#ffffff" stroke-width="0.25">
<text x="677.26" y="432.20" font-size="15.40" textLength="19.89" lengthAdjust="spacingAndGlyphs" font-weight="700" stroke-width="0.6">IN</text>
<text x="667.11" y="447.80" font-size="15.40" textLength="39.95" lengthAdjust="spacingAndGlyphs">7.00%</text>
<text x="674.62" y="462.80" font-size="15.40" textLength="25.69" lengthAdjust="spacingAndGlyphs">#20</text>
</g>
<g fill="#ffffff" stroke="#ffffff" stroke-width="0.25">
<text x="729.53" y="417.50" font-size="15.40" textLength="29.46" lengthAdjust="spacingAndGlyphs" font-weight="700" stroke-width="0.6">OH</text>
<text x="723.92" y="433.10" font-size="15.40" textLength="39.95" lengthAdjust="spacingAndGlyphs">6.80%</text>
<text x="731.44" y="448.10" font-size="15.40" textLength="25.69" lengthAdjust="spacingAndGlyphs">#25</text>
</g>
<g fill="#ffffff" stroke="#ffffff" stroke-width="0.25">
<text x="822.76" y="384.70" font-size="15.40" textLength="23.20" lengthAdjust="spacingAndGlyphs" font-weight="700" stroke-width="0.6">PA</text>
<text x="814.62" y="400.30" font-size="15.40" textLength="39.95" lengthAdjust="spacingAndGlyphs">6.34%</text>
<text x="822.21" y="415.30" font-size="15.40" textLength="25.69" lengthAdjust="spacingAndGlyphs">#32</text>
</g>
<g fill="#ffffff" stroke="#ffffff" stroke-width="0.25">
<text x="855.85" y="321.25" font-size="15.40" textLength="25.37" lengthAdjust="spacingAndGlyphs" font-weight="700" stroke-width="0.6">NY</text>
<text x="848.97" y="336.85" font-size="15.40" textLength="39.95" lengthAdjust="spacingAndGlyphs">8.48%</text>
<text x="860.79" y="351.85" font-size="15.40" textLength="17.13" lengthAdjust="spacingAndGlyphs">#7</text>
</g>
<g fill="#ffffff" stroke="#ffffff" stroke-width="0.25">
<text x="932.87" y="250.00" font-size="15.40" textLength="24.99" lengthAdjust="spacingAndGlyphs" font-weight="700" stroke-width="0.6">ME</text>
<text x="925.59" y="265.60" font-size="15.40" textLength="39.95" lengthAdjust="spacingAndGlyphs">5.00%</text>
<text x="933.04" y="280.60" font-size="15.40" textLength="25.69" lengthAdjust="spacingAndGlyphs">#45</text>
</g>
<g fill="#ffffff" stroke="#ffffff" stroke-width="0.25">
<text x="630.67" y="590.60" font-size="15.40" textLength="24.99" lengthAdjust="spacingAndGlyphs" font-weight="700" stroke-width="0.6">MS</text>
<text x="623.31" y="606.20" font-size="15.40" textLength="39.95" lengthAdjust="spacingAndGlyphs">7.00%</text>
<text x="630.88" y="621.20" font-size="15.40" textLength="25.69" lengthAdjust="spacingAndGlyphs">#19</text>
</g>
<g fill="#ffffff" stroke="#ffffff" stroke-width="0.25">
<text x="687.25" y="587.50" font-size="15.40" textLength="21.60" lengthAdjust="spacingAndGlyphs" font-weight="700" stroke-width="0.6">AL</text>
<text x="677.97" y="603.10" font-size="15.40" textLength="39.95" lengthAdjust="spacingAndGlyphs">8.48%</text>
<text x="689.74" y="618.10" font-size="15.40" textLength="17.13" lengthAdjust="spacingAndGlyphs">#6</text>
</g>
<g fill="#ffffff" stroke="#ffffff" stroke-width="0.25">
<text x="746.09" y="583.75" font-size="15.40" textLength="26.97" lengthAdjust="spacingAndGlyphs" font-weight="700" stroke-width="0.6">GA</text>
<text x="739.62" y="599.35" font-size="15.40" textLength="39.95" lengthAdjust="spacingAndGlyphs">6.98%</text>
<text x="747.21" y="614.35" font-size="15.40" textLength="25.69" lengthAdjust="spacingAndGlyphs">#22</text>
</g>
<g fill="#ffffff" stroke="#ffffff" stroke-width="0.25">
<text x="262.31" y="274.40" font-size="15.40" textLength="99.62" lengthAdjust="spacingAndGlyphs" fill="#111111" stroke="#111111">n/a (see notes)</text>
<text x="827.29" y="455.30" font-size="15.40" textLength="24.77" lengthAdjust="spacingAndGlyphs" font-weight="700" stroke-width="0.6">VA</text>
<text x="818.69" y="470.00" font-size="15.40" textLength="39.95" lengthAdjust="spacingAndGlyphs">5.62%</text>
<text x="826.21" y="485.20" font-size="15.40" textLength="25.69" lengthAdjust="spacingAndGlyphs">#42</text>
<text x="782.02" y="449.90" font-size="15.40" textLength="31.28" lengthAdjust="spacingAndGlyphs" font-weight="700" stroke-width="0.6">WV</text>
<text x="767.02" y="464.50" font-size="15.40" textLength="39.95" lengthAdjust="spacingAndGlyphs">6.04%</text>
<text x="767.74" y="478.70" font-size="15.40" textLength="25.69" lengthAdjust="spacingAndGlyphs">#35</text>
<text x="577.53" y="649.40" font-size="15.40" textLength="22.26" lengthAdjust="spacingAndGlyphs" font-weight="700" stroke-width="0.6">LA</text>
<text x="571.24" y="664.40" font-size="15.40" textLength="64.13" lengthAdjust="spacingAndGlyphs">8.89% #3</text>
<text x="707.59" y="486.90" font-size="15.40" textLength="23.36" lengthAdjust="spacingAndGlyphs" font-weight="700" stroke-width="0.6">KY</text>
<text x="683.94" y="501.90" font-size="15.40" textLength="71.82" lengthAdjust="spacingAndGlyphs">6.00% #37</text>
<text x="667.69" y="530.50" font-size="15.40" textLength="24.55" lengthAdjust="spacingAndGlyphs" font-weight="700" stroke-width="0.6">TN</text>
<text x="696.22" y="530.50" font-size="15.40" textLength="41.20" lengthAdjust="spacingAndGlyphs">9.44%</text>
<text x="692.08" y="545.60" font-size="15.40" textLength="17.13" lengthAdjust="spacingAndGlyphs">#1</text>
<text x="820.49" y="513.80" font-size="15.40" textLength="26.88" lengthAdjust="spacingAndGlyphs" font-weight="700" stroke-width="0.6">NC</text>
<text x="798.54" y="528.60" font-size="15.40" textLength="71.19" lengthAdjust="spacingAndGlyphs">6.90% #24</text>
<text x="782.71" y="552.50" font-size="15.40" textLength="22.56" lengthAdjust="spacingAndGlyphs" font-weight="700" stroke-width="0.6">SC</text>
<text x="783.31" y="567.50" font-size="15.40" textLength="39.95" lengthAdjust="spacingAndGlyphs">7.19%</text>
<text x="800.31" y="582.20" font-size="15.40" textLength="25.69" lengthAdjust="spacingAndGlyphs">#17</text>
<text x="801.61" y="693.75" font-size="15.40" textLength="18.72" lengthAdjust="spacingAndGlyphs" font-weight="700" stroke-width="0.6">FL</text>
<text x="797.92" y="709.40" font-size="15.40" textLength="39.95" lengthAdjust="spacingAndGlyphs">6.62%</text>
<text x="811.88" y="723.75" font-size="15.40" textLength="25.69" lengthAdjust="spacingAndGlyphs">#29</text>
</g>
<rect x="784.65" y="218.75" width="17.9" height="17.4" fill="#bb87a1" stroke="#1b1118" stroke-width="1.5"/>
<rect x="871.05" y="218.75" width="17.9" height="17.4" fill="#ffffff" stroke="#1b1118" stroke-width="1.5"/>
<rect x="985.85" y="407.65" width="17.9" height="17.4" fill="#b7839d" stroke="#1b1118" stroke-width="1.5"/>
<rect x="985.85" y="450.65" width="17.9" height="17.4" fill="#9d6581" stroke="#1b1118" stroke-width="1.5"/>
<rect x="985.85" y="492.25" width="17.9" height="17.4" fill="#b47f99" stroke="#1b1118" stroke-width="1.5"/>
<rect x="985.85" y="533.95" width="17.9" height="17.4" fill="#9e6682" stroke="#1b1118" stroke-width="1.5"/>
<rect x="985.85" y="576.35" width="17.9" height="17.4" fill="#ffffff" stroke="#1b1118" stroke-width="1.5"/>
<rect x="985.85" y="618.35" width="17.9" height="17.4" fill="#c08da7" stroke="#1b1118" stroke-width="1.5"/>
<rect x="985.85" y="660.05" width="17.9" height="17.4" fill="#c08da7" stroke="#1b1118" stroke-width="1.5"/>
<g fill="#111111" stroke="#111111" stroke-width="0.25">
<text x="758.04" y="234.90" font-size="15.40" textLength="22.75" lengthAdjust="spacingAndGlyphs" font-weight="700" stroke-width="0.6">VT</text>
<text x="732.85" y="250.20" font-size="15.40" textLength="70.58" lengthAdjust="spacingAndGlyphs">6.14% #34</text>
<text x="840.03" y="234.90" font-size="15.40" textLength="27.35" lengthAdjust="spacingAndGlyphs" font-weight="700" stroke-width="0.6">NH</text>
<text x="819.97" y="250.20" font-size="15.40" textLength="70.44" lengthAdjust="spacingAndGlyphs">None #48</text>
<text x="954.07" y="425.80" font-size="15.40" textLength="27.40" lengthAdjust="spacingAndGlyphs" font-weight="700" stroke-width="0.6">MA</text>
<text x="933.24" y="440.50" font-size="15.40" textLength="71.31" lengthAdjust="spacingAndGlyphs">6.25% #33</text>
<text x="965.68" y="466.60" font-size="15.40" textLength="16.42" lengthAdjust="spacingAndGlyphs" font-weight="700" stroke-width="0.6">RI</text>
<text x="933.23" y="481.20" font-size="15.40" textLength="71.55" lengthAdjust="spacingAndGlyphs">7.00% #20</text>
<text x="957.85" y="508.40" font-size="15.40" textLength="23.34" lengthAdjust="spacingAndGlyphs" font-weight="700" stroke-width="0.6">CT</text>
<text x="933.25" y="522.90" font-size="15.40" textLength="70.47" lengthAdjust="spacingAndGlyphs">6.35% #31</text>
<text x="962.74" y="549.60" font-size="15.40" textLength="19.61" lengthAdjust="spacingAndGlyphs" font-weight="700" stroke-width="0.6">NJ</text>
<text x="933.24" y="565.00" font-size="15.40" textLength="71.31" lengthAdjust="spacingAndGlyphs">6.97% #23</text>
<text x="957.56" y="592.00" font-size="15.40" textLength="24.12" lengthAdjust="spacingAndGlyphs" font-weight="700" stroke-width="0.6">DE</text>
<text x="934.77" y="607.00" font-size="15.40" textLength="70.13" lengthAdjust="spacingAndGlyphs">None #48</text>
<text x="953.06" y="634.00" font-size="15.40" textLength="28.71" lengthAdjust="spacingAndGlyphs" font-weight="700" stroke-width="0.6">MD</text>
<text x="933.24" y="648.70" font-size="15.40" textLength="71.41" lengthAdjust="spacingAndGlyphs">6.00% #37</text>
<text x="954.63" y="675.70" font-size="15.40" textLength="26.88" lengthAdjust="spacingAndGlyphs" font-weight="700" stroke-width="0.6">DC</text>
<text x="922.73" y="690.40" font-size="15.40" textLength="82.41" lengthAdjust="spacingAndGlyphs">6.00% (#37)</text>
</g>
<rect x="521.5" y="732.6" width="265" height="22.2" fill="url(#ramp)"/>
<g fill="#1a1a1a" stroke="#1a1a1a" stroke-width="0.2">
<text x="555.14" y="725.60" font-size="13.00" textLength="197.70" lengthAdjust="spacingAndGlyphs">State and Local Combined Tax Rate</text>
<text x="520.38" y="769.70" font-size="13.00" textLength="37.25" lengthAdjust="spacingAndGlyphs">Lower</text>
<text x="498.37" y="782.00" font-size="13.00" textLength="86.18" lengthAdjust="spacingAndGlyphs">Combined Rate</text>
<text x="747.95" y="769.70" font-size="13.00" textLength="37.76" lengthAdjust="spacingAndGlyphs">Higher</text>
<text x="724.37" y="782.00" font-size="13.00" textLength="86.59" lengthAdjust="spacingAndGlyphs">Combined Rate</text>
</g>
<rect x="30" y="799.5" width="509" height="174.5" fill="#ececec"/>
<g fill="#1a1a1a" stroke="#1a1a1a" stroke-width="0.22">
<text x="38.64" y="818.20" font-size="16.00" textLength="57.23" lengthAdjust="spacingAndGlyphs">Sources:</text>
<text x="98.49" y="818.20" font-size="16.00" textLength="33.60" lengthAdjust="spacingAndGlyphs">Sales</text>
<text x="134.85" y="818.20" font-size="16.00" textLength="25.92" lengthAdjust="spacingAndGlyphs">Tax</text>
<text x="165.03" y="818.20" font-size="16.00" textLength="101.62" lengthAdjust="spacingAndGlyphs">Clearinghouse;</text>
<text x="270.18" y="818.20" font-size="16.00" textLength="24.08" lengthAdjust="spacingAndGlyphs">Tax</text>
<text x="296.47" y="818.20" font-size="16.00" textLength="74.80" lengthAdjust="spacingAndGlyphs">Foundation</text>
<text x="374.88" y="818.20" font-size="16.00" textLength="79.72" lengthAdjust="spacingAndGlyphs">calculations;</text>
<text x="38.87" y="834.30" font-size="16.00" textLength="33.31" lengthAdjust="spacingAndGlyphs">state</text>
<text x="75.71" y="834.30" font-size="16.00" textLength="53.76" lengthAdjust="spacingAndGlyphs">revenue</text>
<text x="133.27" y="834.30" font-size="16.00" textLength="75.44" lengthAdjust="spacingAndGlyphs">department</text>
<text x="213.82" y="834.30" font-size="16.00" textLength="56.60" lengthAdjust="spacingAndGlyphs">websites</text>
<text x="37.98" y="867.00" font-size="16.00" textLength="46.62" lengthAdjust="spacingAndGlyphs">Notes:</text>
<text x="89.56" y="867.00" font-size="16.00" textLength="39.31" lengthAdjust="spacingAndGlyphs">Three</text>
<text x="132.99" y="867.00" font-size="16.00" textLength="39.49" lengthAdjust="spacingAndGlyphs">states</text>
<text x="174.58" y="867.00" font-size="16.00" textLength="26.95" lengthAdjust="spacingAndGlyphs">levy</text>
<text x="205.71" y="867.00" font-size="16.00" textLength="74.94" lengthAdjust="spacingAndGlyphs">mandatory,</text>
<text x="284.08" y="867.00" font-size="16.00" textLength="67.77" lengthAdjust="spacingAndGlyphs">statewide,</text>
<text x="354.68" y="867.00" font-size="16.00" textLength="31.13" lengthAdjust="spacingAndGlyphs">local</text>
<text x="389.37" y="867.00" font-size="16.00" textLength="46.08" lengthAdjust="spacingAndGlyphs">add-on</text>
<text x="438.28" y="867.00" font-size="16.00" textLength="35.37" lengthAdjust="spacingAndGlyphs">sales</text>
<text x="478.10" y="867.00" font-size="16.00" textLength="31.37" lengthAdjust="spacingAndGlyphs">taxes</text>
<text x="511.88" y="867.00" font-size="16.00" textLength="14.04" lengthAdjust="spacingAndGlyphs">at</text>
<text x="39.07" y="883.00" font-size="16.00" textLength="21.21" lengthAdjust="spacingAndGlyphs">the</text>
<text x="64.38" y="883.00" font-size="16.00" textLength="32.79" lengthAdjust="spacingAndGlyphs">state</text>
<text x="100.71" y="883.00" font-size="16.00" textLength="34.36" lengthAdjust="spacingAndGlyphs">level:</text>
<text x="137.81" y="883.00" font-size="16.00" textLength="21.52" lengthAdjust="spacingAndGlyphs">CA</text>
<text x="163.59" y="883.00" font-size="16.00" textLength="35.24" lengthAdjust="spacingAndGlyphs">(1%),</text>
<text x="201.46" y="883.00" font-size="16.00" textLength="21.38" lengthAdjust="spacingAndGlyphs">UT</text>
<text x="228.69" y="883.00" font-size="16.00" textLength="55.32" lengthAdjust="spacingAndGlyphs">(1.25%),</text>
<text x="286.23" y="883.00" font-size="16.00" textLength="21.40" lengthAdjust="spacingAndGlyphs">VA</text>
<text x="312.65" y="883.00" font-size="16.00" textLength="32.81" lengthAdjust="spacingAndGlyphs">(1%).</text>
<text x="347.44" y="883.00" font-size="16.00" textLength="27.47" lengthAdjust="spacingAndGlyphs">The</text>
<text x="379.01" y="883.00" font-size="16.00" textLength="32.39" lengthAdjust="spacingAndGlyphs">sales</text>
<text x="414.27" y="883.00" font-size="16.00" textLength="35.67" lengthAdjust="spacingAndGlyphs">taxes</text>
<text x="453.53" y="883.00" font-size="16.00" textLength="12.49" lengthAdjust="spacingAndGlyphs">in</text>
<text x="469.15" y="883.00" font-size="16.00" textLength="50.13" lengthAdjust="spacingAndGlyphs">Hawaii,</text>
<text x="38.08" y="899.40" font-size="16.00" textLength="29.67" lengthAdjust="spacingAndGlyphs">New</text>
<text x="71.37" y="899.40" font-size="16.00" textLength="51.21" lengthAdjust="spacingAndGlyphs">Mexico</text>
<text x="127.47" y="899.40" font-size="16.00" textLength="24.75" lengthAdjust="spacingAndGlyphs">and</text>
<text x="155.61" y="899.40" font-size="16.00" textLength="39.47" lengthAdjust="spacingAndGlyphs">South</text>
<text x="198.05" y="899.40" font-size="16.00" textLength="48.25" lengthAdjust="spacingAndGlyphs">Dakota</text>
<text x="250.47" y="899.40" font-size="16.00" textLength="32.16" lengthAdjust="spacingAndGlyphs">have</text>
<text x="285.34" y="899.40" font-size="16.00" textLength="37.93" lengthAdjust="spacingAndGlyphs">broad</text>
<text x="325.80" y="899.40" font-size="16.00" textLength="37.31" lengthAdjust="spacingAndGlyphs">bases</text>
<text x="365.96" y="899.40" font-size="16.00" textLength="26.97" lengthAdjust="spacingAndGlyphs">that</text>
<text x="397.71" y="899.40" font-size="16.00" textLength="47.05" lengthAdjust="spacingAndGlyphs">include</text>
<text x="448.33" y="899.40" font-size="16.00" textLength="35.80" lengthAdjust="spacingAndGlyphs">many</text>
<text x="38.89" y="915.50" font-size="16.00" textLength="58.68" lengthAdjust="spacingAndGlyphs">services.</text>
<text x="99.18" y="915.50" font-size="16.00" textLength="27.28" lengthAdjust="spacingAndGlyphs">Due</text>
<text x="129.15" y="915.50" font-size="16.00" textLength="13.52" lengthAdjust="spacingAndGlyphs">to</text>
<text x="147.28" y="915.50" font-size="16.00" textLength="28.95" lengthAdjust="spacingAndGlyphs">data</text>
<text x="179.75" y="915.50" font-size="16.00" textLength="73.75" lengthAdjust="spacingAndGlyphs">limitations,</text>
<text x="256.31" y="915.50" font-size="16.00" textLength="28.94" lengthAdjust="spacingAndGlyphs">map</text>
<text x="289.18" y="915.50" font-size="16.00" textLength="32.25" lengthAdjust="spacingAndGlyphs">does</text>
<text x="323.77" y="915.50" font-size="16.00" textLength="21.54" lengthAdjust="spacingAndGlyphs">not</text>
<text x="349.34" y="915.50" font-size="16.00" textLength="50.06" lengthAdjust="spacingAndGlyphs">include</text>
<text x="403.52" y="915.50" font-size="16.00" textLength="32.08" lengthAdjust="spacingAndGlyphs">sales</text>
<text x="438.47" y="915.50" font-size="16.00" textLength="20.29" lengthAdjust="spacingAndGlyphs">tax</text>
<text x="463.18" y="915.50" font-size="16.00" textLength="28.95" lengthAdjust="spacingAndGlyphs">data</text>
<text x="497.07" y="915.50" font-size="16.00" textLength="18.90" lengthAdjust="spacingAndGlyphs">for</text>
<text x="38.07" y="931.60" font-size="16.00" textLength="62.50" lengthAdjust="spacingAndGlyphs">Montana.</text>
<text x="103.75" y="931.60" font-size="16.00" textLength="37.18" lengthAdjust="spacingAndGlyphs">Some</text>
<text x="143.25" y="931.60" font-size="16.00" textLength="56.59" lengthAdjust="spacingAndGlyphs">counties</text>
<text x="203.42" y="931.60" font-size="16.00" textLength="12.57" lengthAdjust="spacingAndGlyphs">in</text>
<text x="220.40" y="931.60" font-size="16.00" textLength="31.66" lengthAdjust="spacingAndGlyphs">New</text>
<text x="257.08" y="931.60" font-size="16.00" textLength="40.94" lengthAdjust="spacingAndGlyphs">Jersey</text>
<text x="300.95" y="931.60" font-size="16.00" textLength="22.02" lengthAdjust="spacingAndGlyphs">are</text>
<text x="326.48" y="931.60" font-size="16.00" textLength="21.44" lengthAdjust="spacingAndGlyphs">not</text>
<text x="352.57" y="931.60" font-size="16.00" textLength="48.94" lengthAdjust="spacingAndGlyphs">subject</text>
<text x="406.36" y="931.60" font-size="16.00" textLength="13.47" lengthAdjust="spacingAndGlyphs">to</text>
<text x="425.19" y="931.60" font-size="16.00" textLength="62.59" lengthAdjust="spacingAndGlyphs">statewide</text>
<text x="491.13" y="931.60" font-size="16.00" textLength="31.15" lengthAdjust="spacingAndGlyphs">sales</text>
<text x="39.08" y="947.70" font-size="16.00" textLength="19.75" lengthAdjust="spacingAndGlyphs">tax</text>
<text x="62.51" y="947.70" font-size="16.00" textLength="33.23" lengthAdjust="spacingAndGlyphs">rates</text>
<text x="99.75" y="947.70" font-size="16.00" textLength="25.43" lengthAdjust="spacingAndGlyphs">and</text>
<text x="128.77" y="947.70" font-size="16.00" textLength="41.96" lengthAdjust="spacingAndGlyphs">collect</text>
<text x="174.87" y="947.70" font-size="16.00" textLength="8.23" lengthAdjust="spacingAndGlyphs">a</text>
<text x="187.12" y="947.70" font-size="16.00" textLength="33.06" lengthAdjust="spacingAndGlyphs">local</text>
<text x="223.32" y="947.70" font-size="16.00" textLength="25.51" lengthAdjust="spacingAndGlyphs">rate</text>
<text x="252.62" y="947.70" font-size="16.00" textLength="13.46" lengthAdjust="spacingAndGlyphs">of</text>
<text x="271.59" y="947.70" font-size="16.00" textLength="33.92" lengthAdjust="spacingAndGlyphs">3.5%.</text>
<text x="38.09" y="964.00" font-size="16.00" textLength="64.66" lengthAdjust="spacingAndGlyphs">Published</text>
<text x="106.97" y="964.00" font-size="16.00" textLength="46.34" lengthAdjust="spacingAndGlyphs">August</text>
<text x="157.67" y="964.00" font-size="16.00" textLength="20.22" lengthAdjust="spacingAndGlyphs">26,</text>
<text x="180.65" y="964.00" font-size="16.00" textLength="37.21" lengthAdjust="spacingAndGlyphs">2013.</text>
<text x="220.47" y="964.00" font-size="16.00" textLength="31.63" lengthAdjust="spacingAndGlyphs">Data</text>
<text x="256.36" y="964.00" font-size="16.00" textLength="52.58" lengthAdjust="spacingAndGlyphs">updated</text>
<text x="312.50" y="964.00" font-size="16.00" textLength="22.93" lengthAdjust="spacingAndGlyphs">July</text>
<text x="337.79" y="964.00" font-size="16.00" textLength="13.22" lengthAdjust="spacingAndGlyphs">1,</text>
<text x="356.24" y="964.00" font-size="16.00" textLength="37.74" lengthAdjust="spacingAndGlyphs">2013.</text>
</g>
<g fill="#012245" stroke="#012245" stroke-width="0.4">
<text x="632.15" y="911.00" font-size="31.50" textLength="310.32" lengthAdjust="spacingAndGlyphs">taxfoundation.org/maps</text>
</g>
</svg>
</body></html>
